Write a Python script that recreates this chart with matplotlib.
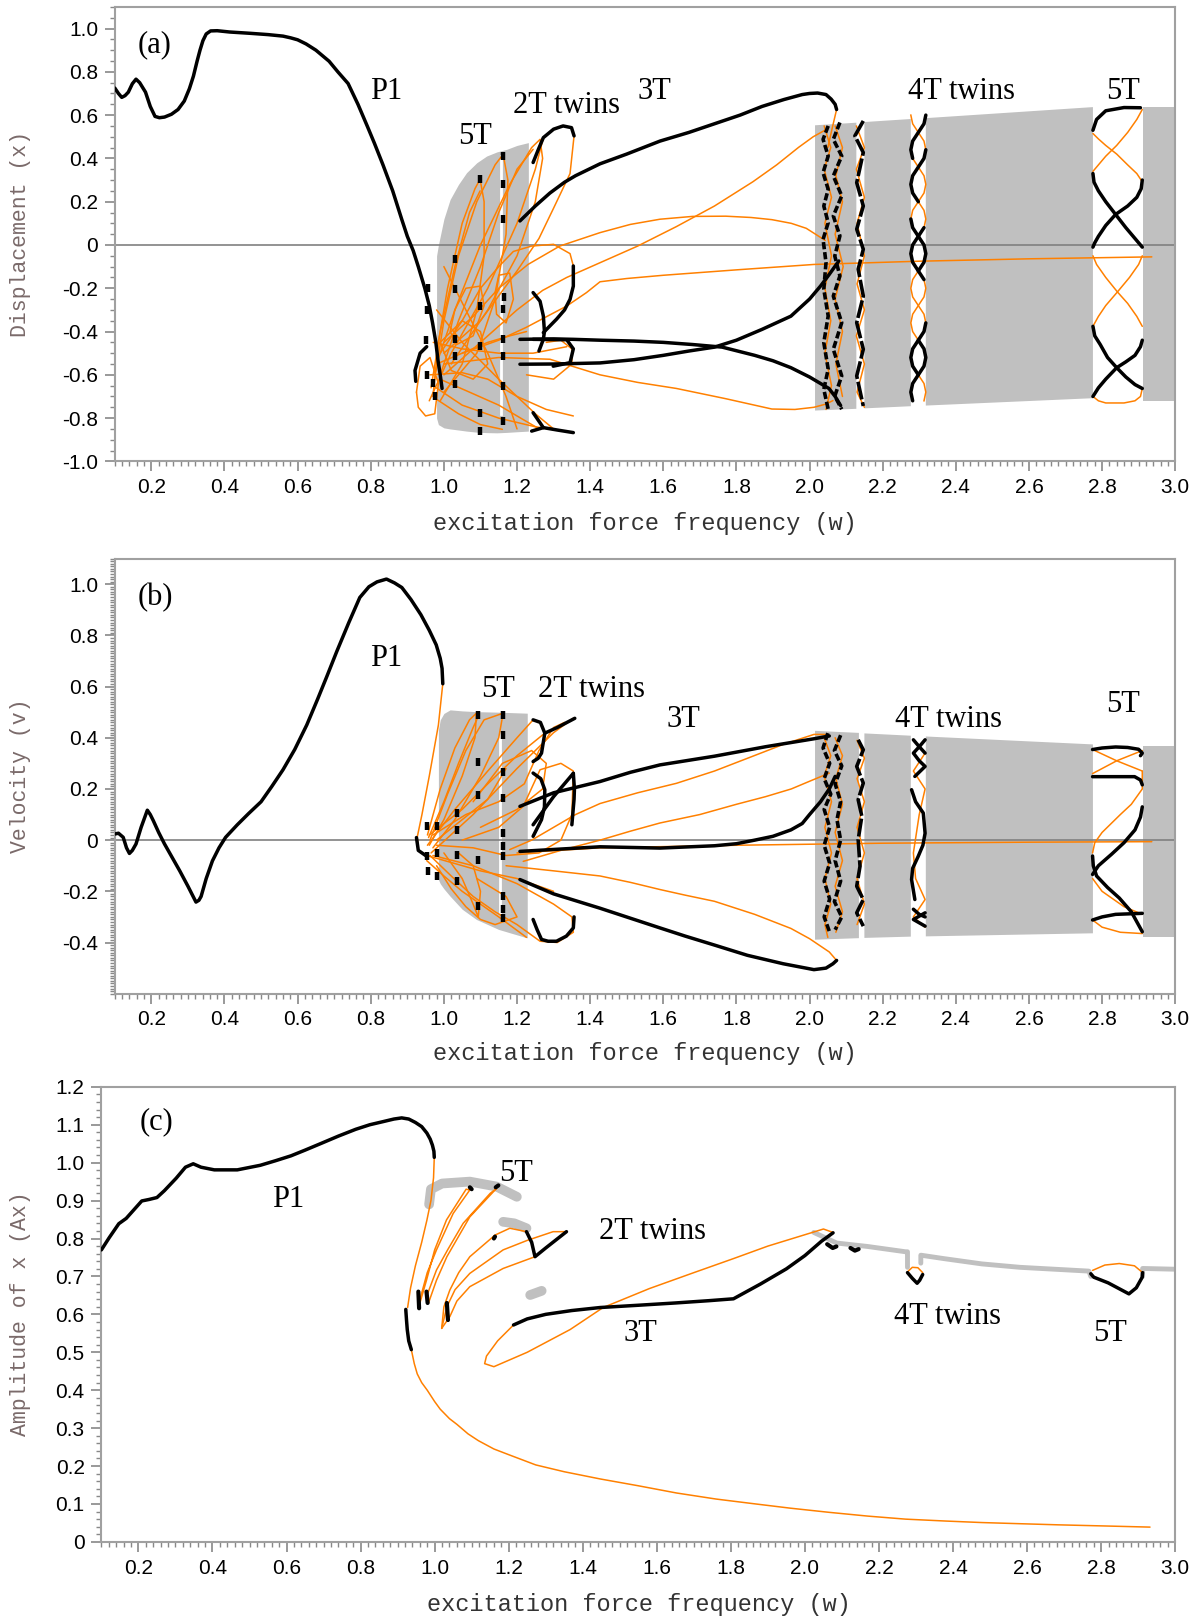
import numpy as np
import matplotlib
matplotlib.use("Agg")
import matplotlib.pyplot as plt
from matplotlib.ticker import MultipleLocator, FuncFormatter

plt.rcParams['axes.unicode_minus'] = False
plt.rcParams['font.family'] = ['Liberation Sans', 'DejaVu Sans']

OR = '#ff8000'
BK = '#000000'
GR = '#c0c0c0'

# ---------------- panel (a) data: displacement ----------------
A_P1 = [(0.100,0.725),(0.110,0.700),(0.119,0.682),(0.128,0.690),(0.137,0.706),(0.148,0.745),(0.158,0.766),
        (0.168,0.750),(0.184,0.706),(0.197,0.640),(0.210,0.594),(0.222,0.588),(0.236,0.591),(0.255,0.604),
        (0.273,0.626),(0.290,0.665),(0.304,0.722),(0.315,0.780),(0.325,0.849),(0.333,0.900),(0.341,0.944),
        (0.350,0.975),(0.362,0.989),(0.380,0.990),(0.414,0.984),(0.470,0.978),(0.519,0.972),(0.560,0.965),
        (0.581,0.957),(0.600,0.948),(0.623,0.929),(0.650,0.900),(0.686,0.849),(0.710,0.800),(0.738,0.746),
        (0.765,0.650),(0.791,0.547),(0.810,0.470),(0.833,0.372),(0.860,0.250),(0.885,0.117),(0.900,0.040),
        (0.916,-0.026),(0.930,-0.100),(0.948,-0.201),(0.960,-0.280),(0.969,-0.360),(0.978,-0.450),
        (0.984,-0.535),(0.990,-0.600),(0.995,-0.663)]
A_ARC = [(0.953,-0.47),(0.935,-0.50),(0.921,-0.58),(0.923,-0.63)]
A_G1_X = [0.980, 0.985, 1.000, 1.017, 1.040, 1.062, 1.090, 1.117, 1.145, 1.172, 1.200, 1.231]
A_G1_TOP = [-0.05, 0.0, 0.12, 0.21, 0.28, 0.334, 0.38, 0.411, 0.43, 0.442, 0.46, 0.473]
A_G1_BOT = [-0.80, -0.83, -0.845, -0.85, -0.855, -0.86, -0.865, -0.867, -0.868, -0.866, -0.863, -0.86]
A_GAP = (1.155, 0.41, -0.78)
A_BANDS = [(2.015, 2.128, 0.553, 0.565, -0.765, -0.757),
           (2.150, 2.277, 0.568, 0.582, -0.755, -0.745),
           (2.318, 2.775, 0.586, 0.637, -0.742, -0.708),
           (2.913, 3.000, 0.638, 0.638, -0.720, -0.720)]
A_DASH_X = [0.957,0.953,0.950,0.955,0.970,0.975, 1.030,1.030,1.030,1.030,1.030,
            1.099,1.099,1.099,1.099,1.099, 1.162,1.162,1.162,1.164,1.162,1.162,1.162,1.162,1.162]
A_DASH_Y = [-0.20,-0.30,-0.44,-0.60,-0.64,-0.70, -0.066,-0.205,-0.436,-0.513,-0.644,
            0.304,-0.282,-0.466,-0.775,-0.859, 0.411,0.281,0.119,-0.24,-0.297,-0.436,-0.513,-0.652,-0.813]
A_FANS = [
    [(0.970,-0.70),(0.985,-0.45),(1.010,-0.20),(1.050,0.10),(1.085,0.26),(1.099,0.304),(1.110,0.20),(1.110,-0.05),(1.090,-0.30),(1.050,-0.55),(0.990,-0.72)],
    [(0.975,-0.62),(1.000,-0.35),(1.040,-0.05),(1.090,0.20),(1.140,0.37),(1.162,0.419),(1.175,0.30),(1.170,0.05),(1.140,-0.25),(1.090,-0.50),(1.000,-0.68)],
    [(0.980,-0.55),(1.030,-0.30),(1.100,0.00),(1.180,0.28),(1.240,0.45),(1.263,0.488),(1.270,0.40),(1.250,0.20),(1.200,-0.05),(1.120,-0.30),(1.020,-0.55)],
    [(0.960,-0.72),(1.020,-0.50),(1.120,-0.20),(1.200,0.10),(1.250,0.35),(1.272,0.496)],
    [(0.965,-0.66),(0.990,-0.40),(1.030,-0.10),(1.070,0.15),(1.099,0.25)],
    [(0.990,-0.60),(1.040,-0.35),(1.100,-0.10),(1.150,0.15),(1.200,0.35),(1.244,0.442)],
    [(1.030,-0.30),(1.060,-0.20),(1.100,-0.19),(1.110,-0.28),(1.080,-0.42),(1.035,-0.46),(1.017,-0.40),(1.030,-0.30)],
    [(1.150,-0.14),(1.180,-0.13),(1.190,-0.25),(1.170,-0.36),(1.144,-0.32),(1.140,-0.22),(1.150,-0.14)],
    [(0.925,-0.68),(0.935,-0.56),(0.962,-0.52),(0.985,-0.64),(0.975,-0.78),(0.950,-0.79),(0.930,-0.75),(0.925,-0.68)],
    [(0.990,-0.45),(1.050,-0.35),(1.100,-0.40),(1.120,-0.55),(1.080,-0.62),(1.020,-0.58),(0.990,-0.45)],
    [(0.971,-0.651),(1.050,-0.74),(1.150,-0.80),(1.250,-0.84),(1.354,-0.867)],
    [(0.989,-0.620),(1.070,-0.68),(1.150,-0.74),(1.210,-0.80),(1.263,-0.852)],
    [(0.980,-0.713),(1.040,-0.78),(1.100,-0.83),(1.160,-0.852)],
    [(0.962,-0.600),(1.050,-0.59),(1.120,-0.62),(1.200,-0.70),(1.280,-0.76),(1.354,-0.79)],
    [(0.971,-0.450),(1.050,-0.48),(1.150,-0.50),(1.244,-0.50),(1.336,-0.47)],
    [(0.980,-0.550),(1.050,-0.50),(1.120,-0.45),(1.180,-0.42),(1.226,-0.40)],
    [(0.980,-0.300),(1.050,-0.45),(1.150,-0.62),(1.250,-0.78),(1.300,-0.85)],
    [(1.000,-0.100),(1.060,-0.30),(1.120,-0.50),(1.170,-0.70),(1.200,-0.85)],
    [(1.354,-0.097),(1.345,-0.04),(1.300,0.003),(1.240,-0.005),(1.190,-0.03),(1.150,-0.10),(1.100,-0.20),(1.050,-0.35),(0.990,-0.50)],
    [(1.356,0.504),(1.345,0.33),(1.300,0.17),(1.260,0.03),(1.200,-0.12),(1.100,-0.35),(1.000,-0.50)],
    [(1.226,-0.60),(1.300,-0.62),(1.350,-0.55),(1.350,-0.48),(1.320,-0.44),(1.280,-0.45)],
]
A_OA = [(1.0,-0.45),(1.08,-0.33),(1.15,-0.20),(1.23,-0.09),(1.317,-0.005),(1.427,0.057),(1.51,0.095),(1.591,0.119),(1.68,0.132),(1.771,0.133),(1.84,0.127),(1.897,0.117),(1.95,0.10),(1.991,0.077),(2.043,0.021)]
A_OB = [(1.0,-0.60),(1.1,-0.45),(1.2,-0.30),(1.27,-0.21),(1.336,-0.15),(1.427,-0.082),(1.53,-0.005),(1.636,0.085),(1.74,0.18),(1.845,0.292),(1.91,0.37),(1.97,0.451),(2.01,0.50),(2.043,0.531)]
A_OC = [(1.05,-0.50),(1.15,-0.44),(1.226,-0.38),(1.336,-0.282),(1.39,-0.22),(1.427,-0.17),(1.5,-0.155),(1.6,-0.14),(1.8,-0.115),(2.012,-0.09),(2.3,-0.075),(2.6,-0.064),(2.936,-0.055)]
A_OD = [(1.0,-0.55),(1.15,-0.52),(1.29,-0.528),(1.36,-0.565),(1.427,-0.60),(1.53,-0.635),(1.636,-0.663),(1.77,-0.71),(1.897,-0.758),(1.96,-0.76),(2.012,-0.75),(2.045,-0.735),(2.064,-0.719)]
A_OE = [(2.074,0.626),(2.062,0.54),(2.050,0.45)]
A_3T_UP = [(1.208,0.111),(1.25,0.18),(1.29,0.24),(1.33,0.29),(1.36,0.32),(1.427,0.375),(1.5,0.42),(1.591,0.48),
           (1.67,0.52),(1.74,0.56),(1.81,0.60),(1.87,0.64),(1.93,0.672),(1.98,0.695),(2.0,0.70),(2.022,0.702),
           (2.045,0.695),(2.059,0.674),(2.07,0.65),(2.074,0.626)]
A_3T_LO1 = [(1.208,-0.436),(1.3,-0.434),(1.354,-0.436),(1.427,-0.44),(1.52,-0.444),(1.6,-0.45),(1.68,-0.46),
            (1.761,-0.472),(1.85,-0.51),(1.9,-0.535),(1.949,-0.567),(2.0,-0.61),(2.053,-0.663),(2.07,-0.70),(2.085,-0.742)]
A_3T_LO2 = [(1.208,-0.551),(1.3,-0.55),(1.427,-0.545),(1.52,-0.53),(1.6,-0.51),(1.67,-0.49),(1.74,-0.472),
            (1.8,-0.44),(1.87,-0.39),(1.949,-0.329),(2.0,-0.25),(2.03,-0.19),(2.053,-0.138),(2.08,-0.074)]
A_3T_LOOP = [(1.244,-0.436),(1.336,-0.438),(1.354,-0.48),(1.345,-0.544),(1.299,-0.56)]
A_2T = [
    [(1.244,0.381),(1.258,0.44),(1.272,0.496),(1.30,0.535),(1.326,0.55),(1.349,0.542),(1.356,0.504)],
    [(1.354,-0.097),(1.354,-0.19),(1.345,-0.251),(1.33,-0.30),(1.308,-0.343),(1.272,-0.405)],
    [(1.244,-0.22),(1.263,-0.26),(1.272,-0.328),(1.275,-0.40),(1.272,-0.436),(1.26,-0.49)],
    [(1.244,-0.775),(1.272,-0.844),(1.31,-0.855),(1.354,-0.867)],
    [(1.272,-0.844),(1.24,-0.86)],
]
A_COLS = [
    [(2.051,0.55),(2.037,0.488),(2.051,0.411),(2.037,0.334),(2.051,0.257),(2.039,0.18),(2.051,0.103),(2.037,0.026),
     (2.045,-0.081),(2.039,-0.205),(2.051,-0.328),(2.039,-0.451),(2.051,-0.574),(2.039,-0.667),(2.051,-0.759)],
    [(2.083,0.566),(2.065,0.488),(2.088,0.411),(2.065,0.319),(2.088,0.227),(2.065,0.134),(2.083,0.042),(2.069,-0.051),
     (2.083,-0.143),(2.065,-0.236),(2.088,-0.359),(2.065,-0.482),(2.088,-0.605),(2.069,-0.698),(2.088,-0.759)],
]
A_COL3 = [(2.147,0.573),(2.124,0.504),(2.147,0.427),(2.129,0.288),(2.147,0.18),(2.129,0.073),(2.147,-0.02),(2.133,-0.112),
          (2.147,-0.236),(2.129,-0.359),(2.147,-0.482),(2.129,-0.605),(2.147,-0.744)]
A_OCOLS = [
    [(2.04,0.55),(2.058,0.45),(2.04,0.35),(2.06,0.22),(2.042,0.1),(2.06,-0.05),(2.042,-0.2),(2.058,-0.35),(2.042,-0.5),(2.06,-0.65),(2.045,-0.76)],
    [(2.07,0.55),(2.09,0.45),(2.072,0.32),(2.09,0.2),(2.07,0.05),(2.092,-0.1),(2.07,-0.25),(2.09,-0.4),(2.072,-0.55),(2.09,-0.7)],
    [(2.128,0.55),(2.15,0.45),(2.128,0.35),(2.15,0.22),(2.13,0.1),(2.15,-0.05),(2.13,-0.18),(2.15,-0.3),(2.128,-0.42),(2.15,-0.55),(2.13,-0.68),(2.15,-0.75)],
]
A_4T_Y = [0.60,0.56,0.52,0.48,0.44,0.40,0.36,0.32,0.28,0.24,0.20,0.16,0.12,0.08,0.04,0.00,
          -0.04,-0.08,-0.12,-0.16,-0.20,-0.24,-0.28,-0.32,-0.36,-0.40,-0.44,-0.48,-0.52,-0.56,-0.60,-0.64,-0.68,-0.72]
A_4T_X1 = [2.318,2.313,2.2975,2.282,2.277,2.282,2.2975,2.313,2.318,2.313,2.2975,2.282,2.277,2.282,2.2975,2.313,
           2.318,2.313,2.2975,2.282,2.277,2.282,2.2975,2.313,2.318,2.313,2.2975,2.282,2.277,2.282,2.2975,2.313,2.318,2.313]
A_4T_X2 = [2.277,2.282,2.2975,2.313,2.318,2.313,2.2975,2.282,2.277,2.282,2.2975,2.313,2.318,2.313,2.2975,2.282,
           2.277,2.282,2.2975,2.313,2.318,2.313,2.2975,2.282,2.277,2.282,2.2975,2.313,2.318,2.313,2.2975,2.282,2.277,2.282]
A_4T_BLACK = [(1, 0, 6), (2, 4, 11), (1, 12, 19), (2, 13, 20), (1, 24, 31), (2, 26, 34)]
A_5T_BLK = [
    [(2.775,0.53),(2.785,0.58),(2.81,0.62),(2.86,0.635),(2.905,0.634)],
    [(2.775,0.33),(2.778,0.29),(2.79,0.25),(2.81,0.20),(2.837,0.141),(2.865,0.08),(2.89,0.03),(2.905,0.0),(2.91,-0.01)],
    [(2.91,0.30),(2.907,0.26),(2.895,0.22),(2.87,0.18),(2.837,0.141),(2.81,0.09),(2.79,0.04),(2.78,0.01),(2.775,-0.01)],
    [(2.775,-0.376),(2.78,-0.42),(2.795,-0.46),(2.815,-0.52),(2.84,-0.567),(2.865,-0.61),(2.89,-0.645),(2.91,-0.663)],
    [(2.91,-0.44),(2.905,-0.47),(2.89,-0.51),(2.865,-0.54),(2.84,-0.567),(2.81,-0.62),(2.79,-0.66),(2.775,-0.70)],
]
A_5T_ORG = [
    [(2.775,0.515),(2.79,0.49),(2.81,0.46),(2.84,0.42),(2.87,0.37),(2.895,0.33),(2.91,0.292)],
    [(2.775,0.34),(2.79,0.37),(2.81,0.41),(2.84,0.46),(2.87,0.52),(2.895,0.58),(2.91,0.626)],
    [(2.775,-0.05),(2.785,-0.09),(2.81,-0.15),(2.842,-0.217),(2.87,-0.27),(2.895,-0.33),(2.91,-0.376)],
    [(2.91,-0.05),(2.9,-0.09),(2.875,-0.15),(2.842,-0.217),(2.81,-0.28),(2.79,-0.33),(2.775,-0.376)],
    [(2.775,-0.70),(2.79,-0.72),(2.81,-0.73),(2.86,-0.73),(2.89,-0.72),(2.905,-0.70),(2.91,-0.663)],
]

# ---------------- panel (b) data: velocity ----------------
B_P1 = [(0.100,0.024),(0.110,0.027),(0.123,0.011),(0.132,-0.030),(0.140,-0.052),(0.148,-0.040),(0.158,-0.015),
        (0.172,0.050),(0.189,0.117),(0.197,0.100),(0.205,0.077),(0.220,0.030),(0.236,-0.015),(0.257,-0.068),
        (0.278,-0.121),(0.300,-0.180),(0.322,-0.242),(0.330,-0.235),(0.336,-0.220),(0.350,-0.150),(0.367,-0.081),
        (0.385,-0.030),(0.403,0.011),(0.435,0.060),(0.466,0.104),(0.500,0.150),(0.529,0.209),(0.560,0.275),
        (0.592,0.354),(0.625,0.450),(0.655,0.552),(0.680,0.640),(0.707,0.737),(0.740,0.850),(0.770,0.948),
        (0.795,0.990),(0.817,1.009),(0.843,1.020),(0.865,1.005),(0.885,0.987),(0.910,0.940),(0.937,0.881),
        (0.960,0.820),(0.979,0.763),(0.990,0.710),(0.995,0.671),(0.997,0.611)]
B_P1_O = [(0.997,0.611),(0.985,0.45),(0.96,0.25),(0.94,0.1),(0.927,0.011),(0.93,-0.03)]
B_ARC = [(0.925,0.01),(0.93,-0.04),(0.95,-0.06)]
B_G1_X = [0.985, 0.99, 1.000, 1.017, 1.050, 1.089, 1.150, 1.228]
B_G1_TOP = [0.43, 0.47, 0.495, 0.509, 0.505, 0.502, 0.50, 0.496]
B_G1_BOT = [-0.154, -0.17, -0.19, -0.219, -0.27, -0.31, -0.349, -0.382]
B_GAP = (1.153, 0.417, -0.284)
B_BANDS = [(2.015, 2.135, 0.427, 0.419, -0.389, -0.383),
           (2.150, 2.277, 0.417, 0.408, -0.382, -0.377),
           (2.318, 2.775, 0.405, 0.374, -0.376, -0.364),
           (2.913, 3.000, 0.367, 0.367, -0.378, -0.378)]
B_DASH_X = [0.953,0.980,0.953,0.980,0.957,0.980, 1.035,1.035,1.035,1.035,
            1.094,1.094,1.094,1.094,1.094, 1.162,1.162,1.162,1.162,1.162,1.162,1.162,1.162,1.162,1.162]
B_DASH_Y = [0.054,0.054,-0.063,-0.05,-0.122,-0.141, 0.106,0.041,-0.057,-0.16,
            0.489,0.307,0.177,-0.076,-0.258, 0.489,0.411,0.268,0.164,0.028,-0.024,-0.063,-0.219,-0.271,-0.304]
B_FANS = [
    [(0.955,0.02),(0.99,0.20),(1.03,0.36),(1.07,0.47),(1.089,0.496),(1.085,0.40),(1.05,0.25),(1.00,0.08),(0.96,-0.02)],
    [(0.962,0.0),(1.01,0.18),(1.06,0.35),(1.11,0.47),(1.162,0.496),(1.15,0.40),(1.10,0.25),(1.03,0.08),(0.97,-0.03)],
    [(0.958,0.01),(1.00,0.15),(1.04,0.30),(1.08,0.44),(1.094,0.483)],
    [(0.955,-0.02),(1.03,0.12),(1.12,0.27),(1.20,0.40),(1.244,0.47)],
    [(0.965,-0.05),(1.08,0.10),(1.20,0.28),(1.30,0.42),(1.354,0.476)],
    [(0.98,0.0),(1.05,0.08),(1.12,0.16),(1.17,0.28)],
    [(0.98,-0.02),(1.08,-0.03),(1.17,-0.06),(1.26,-0.05),(1.32,0.0),(1.35,0.10),(1.354,0.27),(1.32,0.30),(1.263,0.275),(1.217,0.132),(1.15,0.05),(1.05,0.0)],
    [(1.08,0.15),(1.16,0.30),(1.24,0.35),(1.28,0.30),(1.27,0.20),(1.20,0.12),(1.10,0.05)],
    [(0.97,0.02),(1.06,0.10),(1.15,0.15),(1.22,0.22),(1.26,0.35),(1.30,0.44),(1.33,0.46)],
    [(0.953,-0.08),(1.00,-0.14),(1.05,-0.20),(1.10,-0.25),(1.15,-0.30),(1.226,-0.38)],
    [(0.962,-0.06),(1.02,-0.14),(1.08,-0.22),(1.14,-0.28),(1.20,-0.33),(1.263,-0.395),(1.31,-0.40),(1.354,-0.36),(1.35,-0.30),(1.30,-0.25),(1.20,-0.17),(1.08,-0.10),(0.97,-0.06)],
    [(0.980,-0.10),(1.02,-0.19),(1.06,-0.26),(1.10,-0.31),(1.14,-0.33),(1.20,-0.30),(1.17,-0.22),(1.09,-0.15)],
    [(0.953,-0.06),(1.10,-0.12),(1.20,-0.15),(1.30,-0.20)],
    [(0.96,0.02),(1.05,0.12),(1.12,0.22),(1.20,0.33),(1.276,0.418)],
    [(1.0,-0.05),(1.05,-0.15),(1.08,-0.25),(1.094,-0.30),(1.10,-0.20),(1.08,-0.10),(1.04,-0.05)],
]
B_OA = [(1.18,-0.037),(1.24,0.0),(1.30,0.05),(1.36,0.10),(1.427,0.143),(1.53,0.185),(1.636,0.222),(1.74,0.27),(1.845,0.328),(1.93,0.375),(2.012,0.413),(2.043,0.413)]
B_OB = [(1.217,-0.083),(1.32,-0.04),(1.427,0.0),(1.51,0.035),(1.591,0.067),(1.70,0.10),(1.80,0.14),(1.88,0.17),(1.95,0.20),(2.0,0.23),(2.054,0.262)]
B_OC = [(1.20,-0.05),(1.427,-0.03),(1.80,-0.02),(2.20,-0.012),(2.60,-0.008),(2.936,-0.006)]
B_OD = [(1.17,-0.10),(1.30,-0.12),(1.427,-0.14),(1.51,-0.165),(1.591,-0.193),(1.66,-0.215),(1.74,-0.239),(1.85,-0.29),(1.949,-0.345),(2.0,-0.385),(2.054,-0.437),(2.074,-0.47)]
B_3T_UP = [(1.208,0.132),(1.30,0.185),(1.427,0.229),(1.51,0.265),(1.591,0.294),(1.74,0.328),(1.88,0.365),(2.012,0.396),(2.054,0.407)]
B_3T_MID = [(1.208,-0.044),(1.427,-0.026),(1.591,-0.031),(1.74,-0.022),(1.80,-0.014),(1.85,0.0),(1.90,0.015),(1.949,0.04),(1.98,0.065),(2.0,0.10),(2.03,0.15),(2.054,0.20),(2.07,0.249)]
B_3T_LO = [(1.208,-0.154),(1.30,-0.21),(1.427,-0.266),(1.51,-0.305),(1.591,-0.343),(1.66,-0.375),(1.74,-0.41),(1.83,-0.45),(1.928,-0.483),(2.012,-0.506),(2.045,-0.5),(2.064,-0.483),(2.074,-0.47)]
B_2T = [
    [(1.244,0.307),(1.258,0.32),(1.267,0.34),(1.276,0.418),(1.264,0.46),(1.244,0.47)],
    [(1.276,0.418),(1.31,0.44),(1.358,0.476)],
    [(1.244,0.262),(1.265,0.24),(1.276,0.197),(1.275,0.13),(1.267,0.08),(1.244,0.015)],
    [(1.354,0.261),(1.357,0.20),(1.356,0.16),(1.35,0.06)],
    [(1.244,0.06),(1.30,0.17),(1.354,0.261)],
    [(1.244,-0.31),(1.255,-0.35),(1.267,-0.388),(1.285,-0.395),(1.308,-0.395),(1.335,-0.375),(1.354,-0.343),(1.356,-0.30)],
]
B_COLS = [
    [(2.05,0.418),(2.037,0.36),(2.055,0.30),(2.04,0.24),(2.058,0.18),(2.04,0.12),(2.055,0.05),(2.04,-0.02),(2.055,-0.09),(2.04,-0.16),(2.055,-0.23),(2.04,-0.30),(2.055,-0.36)],
    [(2.085,0.41),(2.068,0.35),(2.088,0.29),(2.07,0.22),(2.085,0.15),(2.075,0.08),(2.085,0.0),(2.07,-0.08),(2.085,-0.16),(2.068,-0.24),(2.088,-0.30),(2.07,-0.35)],
]
B_COL3 = [(2.133,0.392),(2.147,0.353),(2.129,0.288),(2.147,0.223),(2.133,0.158),(2.143,0.093),(2.133,0.002),(2.138,-0.102),(2.129,-0.18),(2.147,-0.232),(2.129,-0.284),(2.147,-0.336)]
B_OCOLS = [
    [(2.04,0.40),(2.058,0.33),(2.04,0.25),(2.06,0.15),(2.042,0.05),(2.06,-0.05),(2.042,-0.15),(2.058,-0.25),(2.042,-0.33),(2.05,-0.38)],
    [(2.07,0.40),(2.09,0.33),(2.072,0.24),(2.09,0.14),(2.07,0.03),(2.09,-0.08),(2.07,-0.18),(2.09,-0.28),(2.072,-0.36)],
    [(2.13,0.39),(2.15,0.32),(2.13,0.24),(2.15,0.15),(2.13,0.05),(2.15,-0.05),(2.13,-0.15),(2.15,-0.25),(2.13,-0.33)],
]
B_4T_BLK = [
    [(2.316,0.392),(2.30,0.365),(2.284,0.34),(2.30,0.31),(2.316,0.288),(2.288,0.249)],
    [(2.284,0.392),(2.30,0.365),(2.316,0.34)],
    [(2.279,0.197),(2.29,0.15),(2.311,0.106),(2.316,0.027),(2.31,-0.02),(2.297,-0.064),(2.282,-0.11),(2.279,-0.154),(2.288,-0.232)],
    [(2.316,-0.284),(2.284,-0.31),(2.316,-0.336)],
    [(2.284,-0.27),(2.30,-0.29),(2.316,-0.30)],
]
B_4T_ORG = [(2.284,0.392),(2.316,0.34),(2.284,0.27),(2.316,0.20),(2.30,0.10),(2.284,-0.05),(2.29,-0.15),(2.316,-0.232),(2.284,-0.30),(2.316,-0.34)]
B_5T_BLK = [
    [(2.774,0.354),(2.80,0.36),(2.837,0.364),(2.87,0.362),(2.90,0.355),(2.91,0.34),(2.905,0.33)],
    [(2.774,0.248),(2.889,0.248),(2.905,0.235),(2.91,0.216)],
    [(2.91,0.13),(2.905,0.09),(2.89,0.04),(2.86,-0.01),(2.826,-0.055),(2.79,-0.10),(2.774,-0.134)],
    [(2.774,-0.062),(2.776,-0.10),(2.785,-0.14),(2.815,-0.185),(2.847,-0.226),(2.88,-0.28),(2.91,-0.358)],
    [(2.774,-0.312),(2.80,-0.30),(2.837,-0.29),(2.91,-0.286)],
]
B_5T_ORG = [
    [(2.774,0.354),(2.84,0.31),(2.91,0.27)],
    [(2.774,0.26),(2.84,0.31),(2.91,0.35)],
    [(2.91,0.27),(2.91,0.20),(2.88,0.14),(2.85,0.10),(2.80,0.03),(2.78,-0.01),(2.774,-0.05)],
    [(2.774,-0.15),(2.80,-0.2),(2.86,-0.26),(2.91,-0.29)],
    [(2.774,-0.312),(2.80,-0.34),(2.85,-0.36),(2.91,-0.365)],
]

# ---------------- panel (c) data: amplitude ----------------
C_P1 = [(0.100,0.770),(0.121,0.802),(0.147,0.839),(0.167,0.853),(0.188,0.876),(0.209,0.899),(0.229,0.903),
        (0.250,0.908),(0.270,0.926),(0.302,0.959),(0.327,0.988),(0.348,0.997),(0.369,0.988),(0.405,0.981),
        (0.467,0.981),(0.529,0.993),(0.570,1.005),(0.612,1.018),(0.650,1.033),(0.694,1.051),(0.740,1.070),
        (0.787,1.088),(0.825,1.100),(0.860,1.108),(0.890,1.115),(0.911,1.118),(0.930,1.115),(0.948,1.106),
        (0.965,1.095),(0.979,1.078),(0.988,1.062),(0.994,1.046),(0.998,1.030),(0.999,1.014)]
C_P1_O = [(0.999,1.014),(0.997,0.96),(0.99,0.90),(0.979,0.848),(0.965,0.79),(0.948,0.728),(0.935,0.67),(0.927,0.618)]
C_P1_B2 = [(0.922,0.613),(0.924,0.585),(0.926,0.56),(0.93,0.53),(0.937,0.507)]
C_LOW_O = [(0.937,0.507),(0.945,0.47),(0.953,0.443),(0.965,0.42),(0.98,0.40),(1.0,0.37),(1.015,0.35),(1.04,0.325),
           (1.06,0.31),(1.09,0.285),(1.118,0.267),(1.16,0.245),(1.2,0.23),(1.273,0.203),(1.35,0.185),(1.447,0.166),
           (1.55,0.148),(1.653,0.129),(1.76,0.113),(1.859,0.101),(1.96,0.089),(2.065,0.078),(2.17,0.068),(2.272,0.06),
           (2.38,0.055),(2.478,0.051),(2.58,0.048),(2.684,0.045),(2.81,0.042),(2.932,0.039)]
C_GRAYS = [[(0.985,0.89),(0.99,0.93),(1.02,0.945),(1.095,0.95),(1.167,0.937),(1.222,0.91)],
           [(1.185,0.844),(1.215,0.84),(1.248,0.827)],
           [(1.258,0.651),(1.289,0.662)],
           [(2.024,0.816),(2.086,0.788),(2.169,0.779),(2.272,0.765),(2.277,0.765),(2.277,0.724)],
           [(2.313,0.735),(2.313,0.756),(2.375,0.747),(2.478,0.733),(2.581,0.724),(2.767,0.714),(2.772,0.70)],
           [(2.912,0.70),(2.912,0.721),(3.0,0.719)]]
C_FANS = [
    [(0.96,0.638),(0.98,0.71),(1.005,0.77),(1.05,0.866),(1.095,0.928),(1.085,0.93),(1.032,0.849),(1.0,0.77),(0.978,0.69),(0.956,0.616)],
    [(0.983,0.629),(1.005,0.69),(1.033,0.752),(1.095,0.857),(1.167,0.932),(1.15,0.919),(1.077,0.84),(1.035,0.77),(1.005,0.717),(0.978,0.647)],
    [(1.019,0.563),(1.025,0.62),(1.041,0.664),(1.065,0.71),(1.095,0.752),(1.163,0.809),(1.203,0.827),(1.248,0.818)],
    [(1.271,0.752),(1.185,0.721),(1.095,0.673),(1.06,0.635),(1.041,0.594),(1.019,0.563)],
    [(1.356,0.818),(1.32,0.818),(1.25,0.795),(1.185,0.77),(1.095,0.708),(1.055,0.665),(1.033,0.62),(1.019,0.563)],
]
C_BLK_BITS = [[(0.956,0.66),(0.958,0.616)], [(0.978,0.66),(0.981,0.63)], [(1.033,0.63),(1.036,0.585)],
              [(1.095,0.935),(1.10,0.93)], [(1.165,0.935),(1.172,0.94)], [(1.16,0.80),(1.163,0.805)],
              [(2.06,0.785),(2.075,0.775),(2.085,0.779)], [(2.123,0.775),(2.135,0.768),(2.145,0.772)]]
C_2T_B = [(1.248,0.818),(1.262,0.79),(1.271,0.752),(1.30,0.775),(1.356,0.818)]
C_3T_B = [(1.213,0.572),(1.25,0.588),(1.30,0.60),(1.37,0.61),(1.447,0.618),(1.55,0.624),(1.65,0.63),(1.74,0.636),
          (1.807,0.641),(1.88,0.68),(1.95,0.72),(2.0,0.755),(2.045,0.793),(2.076,0.815)]
C_3T_O = [(1.213,0.572),(1.17,0.53),(1.14,0.49),(1.135,0.47),(1.16,0.462),(1.25,0.50),(1.366,0.56),(1.455,0.618),
          (1.58,0.668),(1.7,0.71),(1.807,0.747),(1.9,0.78),(2.0,0.81),(2.05,0.825),(2.076,0.816)]
C_4T_O = [(2.277,0.712),(2.29,0.724),(2.305,0.723),(2.318,0.71)]
C_4T_B = [(2.277,0.71),(2.29,0.695),(2.303,0.682),(2.31,0.69),(2.318,0.705)]
C_5T_O = [(2.777,0.716),(2.81,0.73),(2.849,0.734),(2.89,0.728),(2.911,0.711)]
C_5T_B = [(2.772,0.707),(2.78,0.698),(2.819,0.683),(2.875,0.654),(2.895,0.67),(2.911,0.698),(2.912,0.71)]

# ---------------- labels ----------------
A_LABELS = [("(a)",0.21,0.927),("P1",0.842,0.71),("5T",1.085,0.502),("2T twins",1.334,0.645),
            ("3T",1.575,0.71),("4T twins",2.415,0.71),("5T",2.858,0.71)]
B_LABELS = [("(b)",0.21,0.949),("P1",0.842,0.711),("5T",1.148,0.59),("2T twins",1.405,0.59),
            ("3T",1.654,0.473),("4T twins",2.379,0.47),("5T",2.858,0.528)]
C_LABELS = [("(c)",0.25,1.109),("P1",0.604,0.904),("5T",1.219,0.972),("2T twins",1.589,0.819),
            ("3T",1.557,0.55),("4T twins",2.386,0.595),("5T",2.824,0.55)]
X_TICKS = [0.2,0.4,0.6,0.8,1.0,1.2,1.4,1.6,1.8,2.0,2.2,2.4,2.6,2.8,3.0]
A_YTICKS = [-1.0,-0.8,-0.6,-0.4,-0.2,0.0,0.2,0.4,0.6,0.8,1.0]
B_YTICKS = [-0.4,-0.2,0.0,0.2,0.4,0.6,0.8,1.0]
C_YTICKS = [0.0,0.1,0.2,0.3,0.4,0.5,0.6,0.7,0.8,0.9,1.0,1.1,1.2]

W, H = 1199, 1618
fig = plt.figure(figsize=(W/100, H/100), dpi=100)

def frame(left, bottom, right, top):
    return fig.add_axes([left/W, 1-bottom/H, (right-left)/W, (bottom-top)/H])

axA = frame(114.8, 461.4, 1175.2, 6.9)
axB = frame(114.8, 993.7, 1175.2, 558.6)
axC = frame(101.4, 1541.9, 1175.2, 1086.8)

def pl(ax, pts, c, lw, ls='-', z=3):
    xs = [p[0] for p in pts]; ys = [p[1] for p in pts]
    ax.plot(xs, ys, color=c, lw=lw, ls=ls, zorder=z, solid_capstyle='round', solid_joinstyle='round',
            dash_capstyle='butt')

BLW = 2.5
OLW = 1.1

def style(ax, ylim, yticks, yminor):
    ax.set_xlim(0.1, 3.0)
    ax.set_ylim(*ylim)
    ax.set_xticks(X_TICKS)
    ax.set_yticks(yticks)
    ax.xaxis.set_minor_locator(MultipleLocator(0.02))
    ax.yaxis.set_minor_locator(MultipleLocator(yminor))
    fmt = FuncFormatter(lambda v, p: '0' if abs(v) < 1e-9 else f'{v:.1f}')
    ax.xaxis.set_major_formatter(FuncFormatter(lambda v, p: f'{v:.1f}'))
    ax.yaxis.set_major_formatter(fmt)
    ax.tick_params(which='major', direction='out', length=7, width=1.2, color='#888888',
                   labelsize=15, pad=5, labelcolor='black')
    ax.tick_params(which='minor', direction='out', length=3.5, width=1.0, color='#888888')
    for s in ax.spines.values():
        s.set_color('#a0a0a0'); s.set_linewidth(1.5)

def labels(ax, items):
    for t, x, y in items:
        ax.text(x, y, t, ha='center', va='center', fontsize=22, family=['Liberation Serif', 'DejaVu Serif'],
                color='black', zorder=6)

def bands(ax, bl):
    for x0, x1, t0, t1, b0, b1 in bl:
        ax.fill([x0, x1, x1, x0], [t0, t1, b1, b0], color=GR, lw=0, zorder=1)

# ----- panel a -----
ax = axA
style(ax, (-1.0, 1.1), A_YTICKS, 0.05)
ax.fill_between(A_G1_X, A_G1_BOT, A_G1_TOP, color=GR, lw=0, zorder=1)
ax.plot([A_GAP[0]]*2, [A_GAP[1], A_GAP[2]], color='white', lw=2, zorder=1.2)
bands(ax, A_BANDS)
ax.axhline(0, color='#808080', lw=1.2, zorder=2)
for f in A_FANS: pl(ax, f, OR, OLW)
for f in (A_OA, A_OB, A_OC, A_OD, A_OE): pl(ax, f, OR, OLW)
for f in A_OCOLS: pl(ax, f, OR, OLW)
ax.plot(A_4T_X1, A_4T_Y, color=OR, lw=OLW, zorder=3)
ax.plot(A_4T_X2, A_4T_Y, color=OR, lw=OLW, zorder=3)
for f in A_5T_ORG: pl(ax, f, OR, OLW)
pl(ax, A_P1, BK, BLW, z=4); pl(ax, A_ARC, BK, BLW, z=4)
for f in (A_3T_UP, A_3T_LO1, A_3T_LO2, A_3T_LOOP): pl(ax, f, BK, BLW, z=4)
for f in A_2T: pl(ax, f, BK, BLW, z=4)
for f in A_COLS: pl(ax, f, BK, 2.6, ls=(0, (2.0, 0.8)), z=4)
pl(ax, A_COL3, BK, 2.6, ls=(0, (5, 0.8)), z=4)
for which, i0, i1 in A_4T_BLACK:
    xs = A_4T_X1 if which == 1 else A_4T_X2
    ax.plot(xs[i0:i1], A_4T_Y[i0:i1], color=BK, lw=BLW, zorder=4, solid_capstyle='round')
for f in A_5T_BLK: pl(ax, f, BK, BLW, z=4)
ax.plot(A_DASH_X, A_DASH_Y, ls='none', marker='|', ms=6, mew=3.2, color=BK, zorder=5)
labels(ax, A_LABELS)

# ----- panel b -----
ax = axB
style(ax, (-0.6, 1.1), B_YTICKS, 0.01)
ax.fill_between(B_G1_X, B_G1_BOT, B_G1_TOP, color=GR, lw=0, zorder=1)
ax.plot([B_GAP[0]]*2, [B_GAP[1], B_GAP[2]], color='white', lw=2, zorder=1.2)
bands(ax, B_BANDS)
ax.axhline(0, color='#808080', lw=1.2, zorder=2)
pl(ax, B_P1_O, OR, OLW)
for f in B_FANS: pl(ax, f, OR, OLW)
for f in (B_OA, B_OB, B_OC, B_OD): pl(ax, f, OR, OLW)
for f in B_OCOLS: pl(ax, f, OR, OLW)
pl(ax, B_4T_ORG, OR, OLW)
for f in B_5T_ORG: pl(ax, f, OR, OLW)
pl(ax, B_P1, BK, BLW, z=4); pl(ax, B_ARC, BK, BLW, z=4)
for f in (B_3T_UP, B_3T_MID, B_3T_LO): pl(ax, f, BK, BLW, z=4)
for f in B_2T: pl(ax, f, BK, BLW, z=4)
for f in B_COLS: pl(ax, f, BK, 2.6, ls=(0, (2.0, 0.8)), z=4)
pl(ax, B_COL3, BK, 2.6, ls=(0, (5, 0.8)), z=4)
for f in B_4T_BLK: pl(ax, f, BK, BLW, z=4)
for f in B_5T_BLK: pl(ax, f, BK, BLW, z=4)
ax.plot(B_DASH_X, B_DASH_Y, ls='none', marker='|', ms=6, mew=3.2, color=BK, zorder=5)
labels(ax, B_LABELS)

# ----- panel c -----
ax = axC
style(ax, (0.0, 1.2), C_YTICKS, 0.02)
for g in C_GRAYS[:3]: pl(ax, g, GR, 7, z=1)
for g in C_GRAYS[3:]: pl(ax, g, GR, 3.5, z=1)
for f in (C_P1_O, C_LOW_O, C_3T_O, C_4T_O, C_5T_O): pl(ax, f, OR, OLW)
for f in C_FANS: pl(ax, f, OR, OLW)
pl(ax, C_P1, BK, BLW, z=4); pl(ax, C_P1_B2, BK, BLW, z=4)
for f in C_BLK_BITS: pl(ax, f, BK, BLW + 0.5, z=4)
for f in (C_2T_B, C_3T_B, C_4T_B, C_5T_B): pl(ax, f, BK, BLW, z=4)
labels(ax, C_LABELS)

mono = ['Liberation Mono', 'DejaVu Sans Mono']
fig.text(0.5375, 1-523.4/H, 'excitation force frequency (w)', ha='center', va='center', fontsize=17, family=mono, color='#333333')
fig.text(0.5375, 1-1053.9/H, 'excitation force frequency (w)', ha='center', va='center', fontsize=17, family=mono, color='#333333')
fig.text(0.5325, 1-1604.8/H, 'excitation force frequency (w)', ha='center', va='center', fontsize=17, family=mono, color='#333333')
fig.text(21/W, 1-234/H, 'Displacement (x)', rotation=90, ha='center', va='center', fontsize=15.5, family=mono, color='#7a6a6a')
fig.text(21/W, 1-776/H, 'Velocity (v)', rotation=90, ha='center', va='center', fontsize=15.5, family=mono, color='#7a6a6a')
fig.text(21/W, 1-1314/H, 'Amplitude of x (Ax)', rotation=90, ha='center', va='center', fontsize=15.5, family=mono, color='#7a6a6a')

fig.savefig('out.png', dpi=100)
